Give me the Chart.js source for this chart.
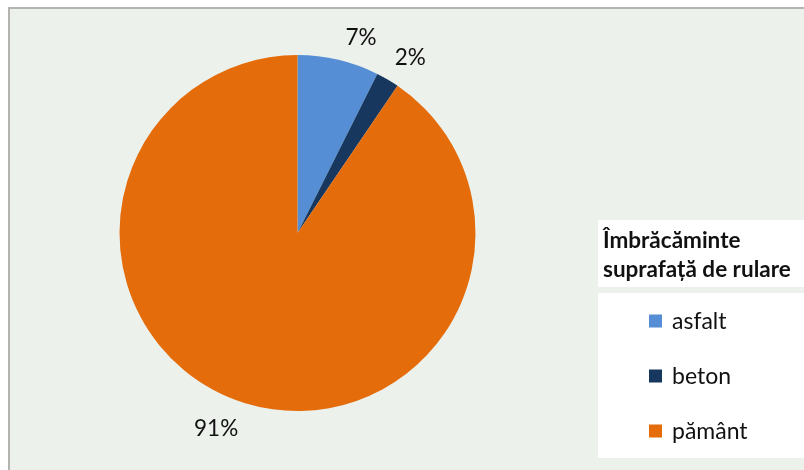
<!DOCTYPE html>
<html>
<head>
<meta charset="utf-8">
<script src="https://cdn.jsdelivr.net/npm/chart.js@4"></script>
<style>
  body { margin: 0; background: #fff; }
  canvas { display: block; }
</style>
</head>
<body>
<canvas id="pieChart" width="804" height="470"></canvas>
<script>
const categories = ["asfalt", "beton", "pământ"];
const shares = [7.4, 2.1, 90.5];
const sliceColors = ["#558ED5", "#17375E", "#E46C0A"];
const legendTitle = ["Îmbrăcăminte", "suprafață de rulare"];

const textColor = "#111";
const fontFamily = "Lato, 'Open Sans', sans-serif";

// panel background with the grey border on top and left
const backgroundPlugin = {
  id: 'panel',
  beforeDraw(chart) {
    const ctx = chart.ctx;
    ctx.save();
    ctx.fillStyle = '#fff';
    ctx.fillRect(0, 0, chart.width, chart.height);
    ctx.fillStyle = '#EDF1EC';
    ctx.fillRect(8, 7, chart.width - 8, chart.height - 7);
    ctx.fillStyle = '#B3B3B1';
    ctx.fillRect(8, 7, chart.width - 8, 2);
    ctx.fillRect(8, 7, 2, chart.height - 7);
    ctx.restore();
  }
};

// percentage labels outside each slice
const pctLabelsPlugin = {
  id: 'pctLabels',
  afterDatasetsDraw(chart) {
    const ctx = chart.ctx;
    const meta = chart.getDatasetMeta(0);
    const total = shares.reduce((a, b) => a + b, 0);
    ctx.save();
    ctx.font = "22.5px " + fontFamily;
    ctx.fillStyle = textColor;
    ctx.textAlign = 'center';
    ctx.textBaseline = 'middle';
    meta.data.forEach((arc, i) => {
      const p = arc.getProps(['x', 'y', 'startAngle', 'endAngle', 'outerRadius'], true);
      const mid = (p.startAngle + p.endAngle) / 2;
      const ax = p.x + Math.cos(mid) * p.outerRadius;
      const ay = p.y + Math.sin(mid) * p.outerRadius;
      const txt = Math.round(shares[i] * 100 / total) + '%';
      const w = ctx.measureText(txt).width;
      const h = 16;
      const lx = ax + Math.sign(Math.cos(mid)) * (w / 2 + 7);
      const ly = ay + Math.sign(Math.sin(mid)) * (h / 2 + 16) + 2;
      ctx.fillText(txt, lx, ly);
    });
    ctx.restore();
  }
};

// legend drawn the Excel way: title box + item box
const legendPlugin = {
  id: 'boxLegend',
  afterDraw(chart) {
    const ctx = chart.ctx;
    ctx.save();
    ctx.fillStyle = '#fff';
    ctx.fillRect(598, 220, chart.width - 598, 67);
    ctx.fillRect(598, 293, chart.width - 598, 165);

    ctx.fillStyle = textColor;
    ctx.textAlign = 'left';
    ctx.textBaseline = 'alphabetic';
    ctx.font = "bold 22.5px " + fontFamily;
    legendTitle.forEach((line, i) => ctx.fillText(line, 603, 248 + i * 28.5));

    ctx.font = "23px " + fontFamily;
    chart.data.labels.forEach((lab, i) => {
      const cy = 321 + i * 55;
      ctx.fillStyle = sliceColors[i];
      ctx.fillRect(649, cy - 6.5, 13, 13);
      ctx.fillStyle = textColor;
      ctx.fillText(lab, 672, cy + 7.5);
    });
    ctx.restore();
  }
};

new Chart(document.getElementById('pieChart'), {
  type: 'pie',
  data: {
    labels: categories,
    datasets: [{
      data: shares,
      backgroundColor: sliceColors,
      borderWidth: 0,
      hoverOffset: 0,
      offset: 0
    }]
  },
  options: {
    responsive: false,
    animation: false,
    layout: { padding: { left: 119.5, right: 328.5, top: 55, bottom: 59 } },
    plugins: {
      legend: { display: false },
      tooltip: { enabled: false }
    }
  },
  plugins: [backgroundPlugin, pctLabelsPlugin, legendPlugin]
});
</script>
</body>
</html>
